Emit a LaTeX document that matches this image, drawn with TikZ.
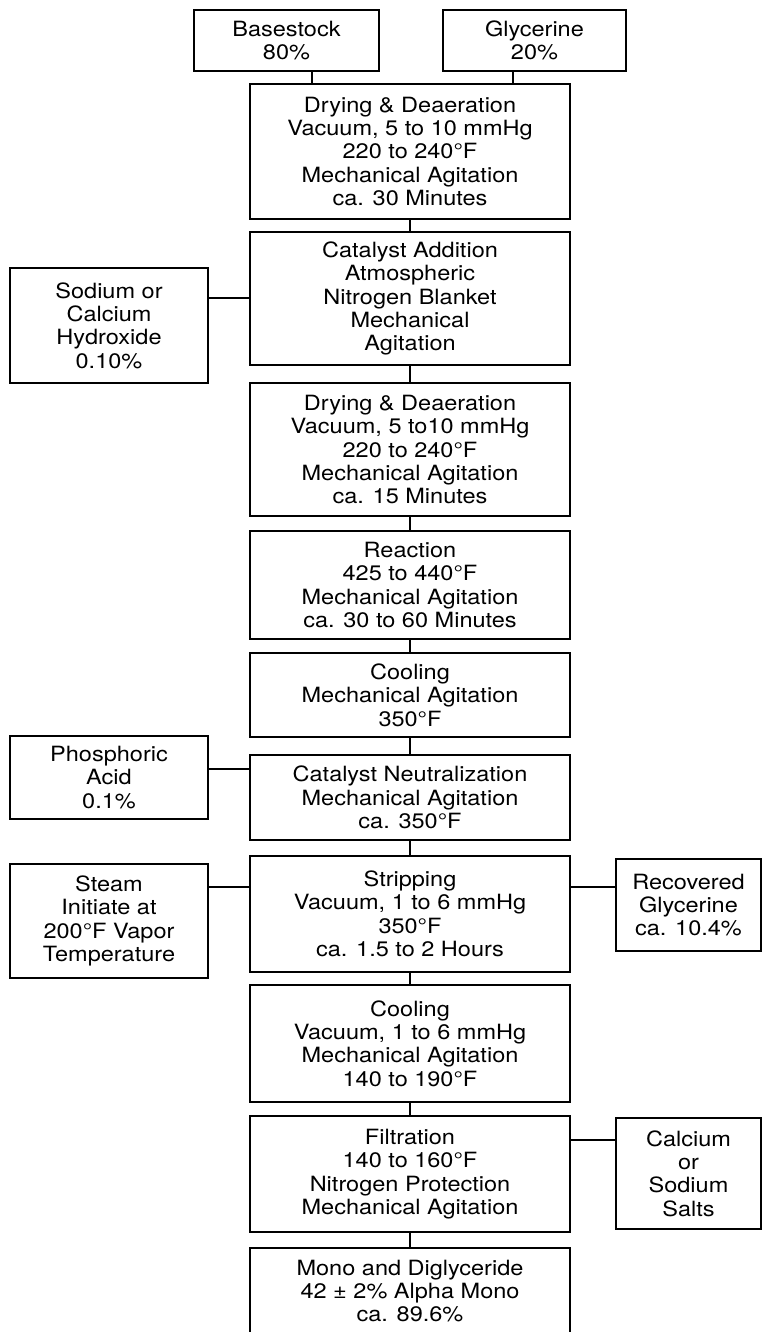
\documentclass[tikz,border=0pt]{standalone}
\usepackage{fontspec}
\setmainfont{TeX Gyre Heros}[FakeStretch=1.12]
\begin{document}
\begin{tikzpicture}[x=1pt,y=-1pt,
  box/.style={draw, line width=1.4pt, inner sep=0pt, align=center,
    font=\fontsize{21}{23.4}\selectfont},
  main/.style={box, minimum width=320pt},
  link/.style={line width=1.4pt}]
\clip (0,0) rectangle (762,1332);
\fill[white] (0,0) rectangle (762,1332);
% top inputs
\node[box, minimum width=185pt, minimum height=61pt] (base) at (286.5,40.5) {Basestock\\80\%};
\node[box, minimum width=183pt, minimum height=61pt] (gly) at (534.5,40.5) {Glycerine\\20\%};
% main chain
\node[main, minimum height=135pt] (d1) at (410,151.5) {Drying \& Deaeration\\Vacuum, 5 to 10 mmHg\\220 to 240°F\\Mechanical Agitation\\ca. 30 Minutes};
\node[main, minimum height=133pt] (cat) at (410,298.5) {Catalyst Addition\\Atmospheric\\Nitrogen Blanket\\Mechanical\\Agitation};
\node[main, minimum height=133pt] (d2) at (410,449.5) {Drying \& Deaeration\\Vacuum, 5 to10 mmHg\\220 to 240°F\\Mechanical Agitation\\ca. 15 Minutes};
\node[main, minimum height=108pt] (rea) at (410,585) {Reaction\\425 to 440°F\\Mechanical Agitation\\ca. 30 to 60 Minutes};
\node[main, minimum height=84pt] (coo) at (410,695) {Cooling\\Mechanical Agitation\\350°F};
\node[main, minimum height=85pt] (neu) at (410,797.5) {Catalyst Neutralization\\Mechanical Agitation\\ca. 350°F};
\node[main, minimum height=116pt] (str) at (410,914) {Stripping\\Vacuum, 1 to 6 mmHg\\350°F\\ca. 1.5 to 2 Hours};
\node[main, minimum height=117pt] (co2) at (410,1043.5) {Cooling\\Vacuum, 1 to 6 mmHg\\Mechanical Agitation\\140 to 190°F};
\node[main, minimum height=116pt] (fil) at (410,1174) {Filtration\\140 to 160°F\\Nitrogen Protection\\Mechanical Agitation};
\node[main, minimum height=86pt] (fin) at (410,1291) {Mono and Diglyceride\\42 ± 2\% Alpha Mono\\ca. 89.6\%};
% side boxes
\node[box, minimum width=198pt, minimum height=115pt] (sod) at (109,325.5) {Sodium or\\Calcium\\Hydroxide\\0.10\%};
\node[box, minimum width=198pt, minimum height=83pt] (pho) at (109,777.5) {Phosphoric\\Acid\\0.1\%};
\node[box, minimum width=198pt, minimum height=114pt] (ste) at (109,921) {Steam\\Initiate at\\200°F Vapor\\Temperature};
\node[box, minimum width=145pt, minimum height=92pt] (rec) at (688.5,905) {Recovered\\Glycerine\\ca. 10.4\%};
\node[box, minimum width=145pt, minimum height=111pt] (cal) at (688.5,1173.5) {Calcium\\or\\Sodium\\Salts};
% connector guides
\coordinate (xb) at (312,0);
\coordinate (xg) at (513,0);
\coordinate (ysod) at (0,298);
\coordinate (ypho) at (0,769);
\coordinate (yste) at (0,887);
\coordinate (ycal) at (0,1140);
% connectors
\draw[link] (base.south -| xb) -- (d1.north -| xb);
\draw[link] (gly.south -| xg) -- (d1.north -| xg);
\draw[link] (d1.south) -- (cat.north);
\draw[link] (cat.south) -- (d2.north);
\draw[link] (d2.south) -- (rea.north);
\draw[link] (rea.south) -- (coo.north);
\draw[link] (coo.south) -- (neu.north);
\draw[link] (neu.south) -- (str.north);
\draw[link] (str.south) -- (co2.north);
\draw[link] (co2.south) -- (fil.north);
\draw[link] (fil.south) -- (fin.north);
\draw[link] (sod.east |- ysod) -- (cat.west |- ysod);
\draw[link] (pho.east |- ypho) -- (neu.west |- ypho);
\draw[link] (ste.east |- yste) -- (str.west |- yste);
\draw[link] (str.east |- yste) -- (rec.west |- yste);
\draw[link] (fil.east |- ycal) -- (cal.west |- ycal);
\end{tikzpicture}
\end{document}
